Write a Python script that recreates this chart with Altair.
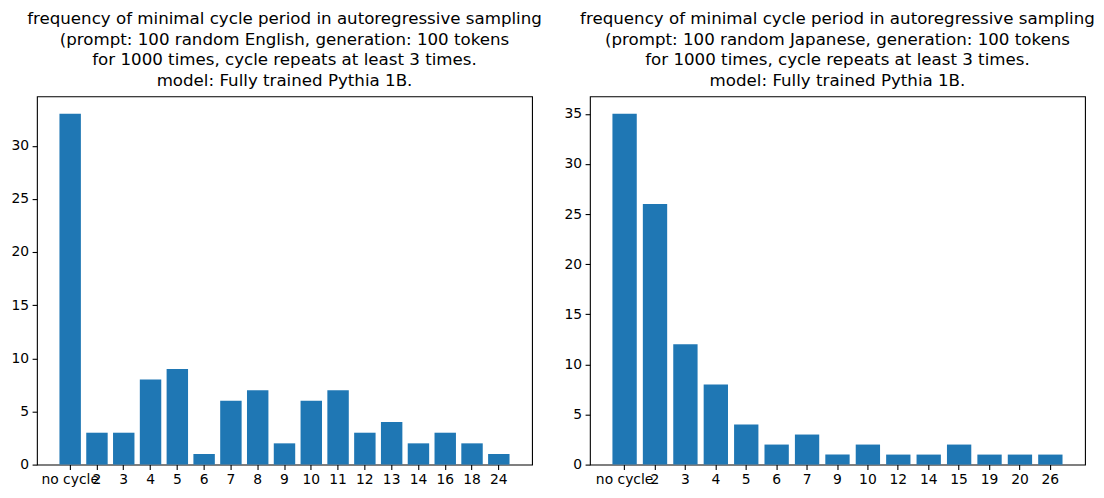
import altair as alt
import pandas as pd

FONT = "DejaVu Sans"
BLUE = "#1f77b4"

left_cats = ["no cycle", "2", "3", "4", "5", "6", "7", "8", "9", "10", "11", "12", "13", "14", "16", "18", "24"]
left_vals = [33, 3, 3, 8, 9, 1, 6, 7, 2, 6, 7, 3, 4, 2, 3, 2, 1]

right_cats = ["no cycle", "2", "3", "4", "5", "6", "7", "9", "10", "12", "14", "15", "19", "20", "26"]
right_vals = [35, 26, 12, 8, 4, 2, 3, 1, 2, 1, 1, 2, 1, 1, 1]

left_title = ["frequency of minimal cycle period in autoregressive sampling",
              "(prompt: 100 random English, generation: 100 tokens",
              "for 1000 times, cycle repeats at least 3 times.",
              "model: Fully trained Pythia 1B."]
right_title = ["frequency of minimal cycle period in autoregressive sampling",
               "(prompt: 100 random Japanese, generation: 100 tokens",
               "for 1000 times, cycle repeats at least 3 times.",
               "model: Fully trained Pythia 1B."]

left_yticks = [0, 5, 10, 15, 20, 25, 30]
right_yticks = [0, 5, 10, 15, 20, 25, 30, 35]


def panel(cats, vals, title, yticks):
    n = len(cats)
    df = pd.DataFrame({"cat": cats, "val": vals})
    ymax = max(vals) * 1.05
    return alt.Chart(df, title=alt.TitleParams(
        text=title, fontSize=16.7, font=FONT, fontWeight="normal", color="black",
        lineHeight=20.5, anchor="middle", frame="group", offset=7)).mark_bar(color=BLUE).encode(
        x=alt.X("cat:N", sort=cats, title=None,
                scale=alt.Scale(paddingInner=0.2, paddingOuter=0.05 * n - 0.01),
                axis=alt.Axis(labelAngle=0, labelOverlap=False, domain=False,
                              tickSize=4.86, tickWidth=1.1, tickColor="black",
                              labelPadding=3.5, labelFont=FONT, labelFontSize=13.9,
                              labelColor="black", grid=False)),
        y=alt.Y("val:Q", title=None,
                scale=alt.Scale(domain=[0, ymax], nice=False, zero=True),
                axis=alt.Axis(values=yticks, domain=False, grid=False,
                              tickSize=4.86, tickWidth=1.1, tickColor="black",
                              labelPadding=3.5, labelFont=FONT, labelFontSize=13.9,
                              labelColor="black")),
    ).properties(width=496, height=369)


chart = alt.hconcat(
    panel(left_cats, left_vals, left_title, left_yticks),
    panel(right_cats, right_vals, right_title, right_yticks),
    spacing=20,
).configure(
    background="white",
    padding={"left": 2, "top": 2, "right": 0, "bottom": 0},
).configure_view(stroke="black", strokeWidth=1.1)

chart.save("out.html", embed_options={"renderer": "svg", "actions": False})
